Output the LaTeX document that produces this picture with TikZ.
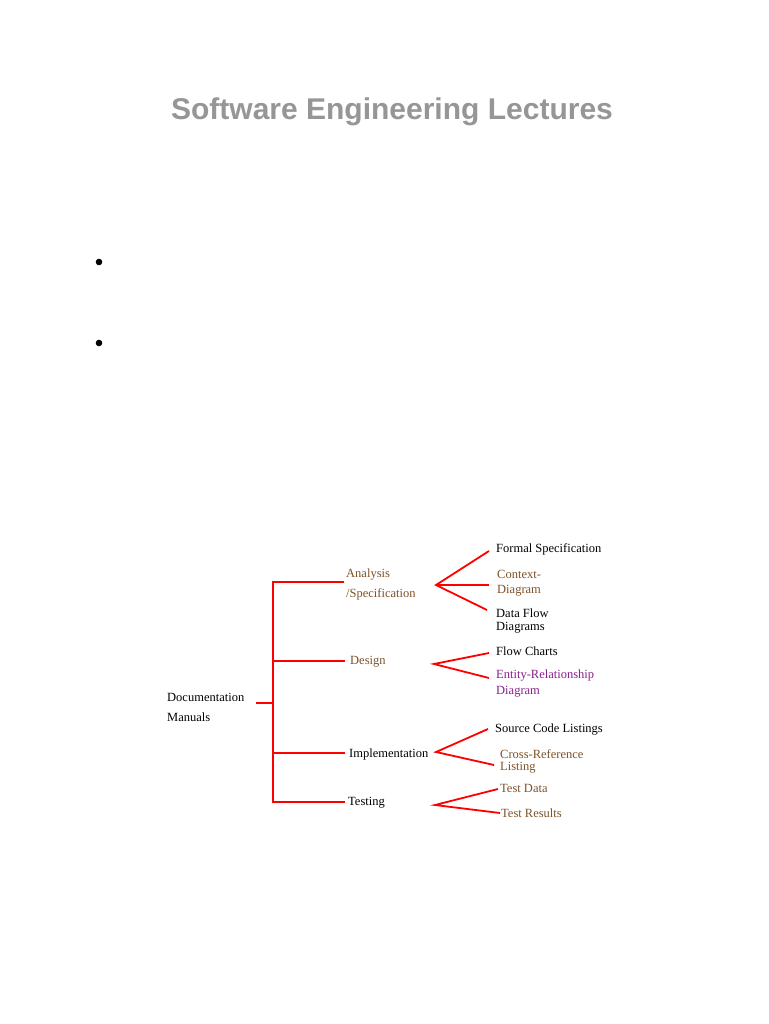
\documentclass[tikz,border=0pt]{standalone}
\usepackage{fontspec}
\setmainfont{Liberation Serif}
\newfontfamily\titlefont{Liberation Sans}
\definecolor{titlegray}{RGB}{150,150,150}
\definecolor{brownish}{RGB}{125,82,40}
\definecolor{purplish}{RGB}{140,30,140}
\begin{document}
\begin{tikzpicture}[x=1pt,y=-1pt,
  lbl/.style={anchor=west,inner sep=0pt,align=left,font=\fontsize{12.5}{15}\selectfont},
  br/.style={lbl,text=brownish},
  pu/.style={lbl,text=purplish},
  edge/.style={draw=red,line width=1.8pt}]
\useasboundingbox[fill=white] (0,0) rectangle (768,1024);
\node[font=\titlefont\bfseries\fontsize{30}{34}\selectfont,text=titlegray] (title) at (392,112) {Software Engineering Lectures};
\fill (99,262) circle (3.3);
\fill (99,343) circle (3.3);
% root and level 1
\node[lbl,font=\fontsize{12.5}{20}\selectfont] (doc) at (167,707) {Documentation\\Manuals};
\node[br,font=\fontsize{12.5}{20}\selectfont] (ana) at (346,584) {Analysis\\/Specification};
\node[br] (des) at (350,662) {Design};
\node[lbl] (imp) at (349,754) {Implementation};
\node[lbl] (tst) at (348,803) {Testing};
% level 2
\node[lbl] (fs) at (496,549) {Formal Specification};
\node[br] (cd) at (497,583.5) {Context-\\Diagram};
\node[lbl,font=\fontsize{12.5}{13}\selectfont] (dfd) at (496,621.5) {Data Flow\\Diagrams};
\node[lbl] (fc) at (496,651) {Flow Charts};
\node[pu,font=\fontsize{12.5}{16}\selectfont] (er) at (496,684) {Entity-Relationship\\Diagram};
\node[lbl] (scl) at (495,730) {Source Code Listings};
\node[br,font=\fontsize{12.5}{12}\selectfont] (crl) at (500,761) {Cross-Reference\\Listing};
\node[br] (td) at (500,788) {Test Data};
\node[br] (tr) at (501,813) {Test Results};
% tree coordinates
\coordinate (rootend) at (256,703);
\coordinate (j0) at (273,703);
\coordinate (j1) at (273,582);
\coordinate (j2) at (273,661);
\coordinate (j3) at (273,753);
\coordinate (j4) at (273,802);
\coordinate (e1) at (344,582);
\coordinate (e2) at (345,661);
\coordinate (e3) at (345,753);
\coordinate (e4) at (345,802);
\draw[edge] (rootend) -- (j0);
\draw[edge] (e1) -- (j1) -- (j4) -- (e4);
\draw[edge] (j2) -- (e2);
\draw[edge] (j3) -- (e3);
% fans
\coordinate (a1) at (436,585);
\coordinate (f1) at (489,551);
\coordinate (f2) at (489,585);
\coordinate (f3) at (487,610);
\draw[edge] (f1) -- (a1) -- (f3);
\draw[edge] (a1) -- (f2);
\coordinate (a2) at (434,664);
\coordinate (g1) at (489,653);
\coordinate (g2) at (489,678);
\draw[edge] (g1) -- (a2) -- (g2);
\coordinate (a3) at (436,752);
\coordinate (h1) at (488,729);
\coordinate (h2) at (494,765);
\draw[edge] (h1) -- (a3) -- (h2);
\coordinate (a4) at (435,805);
\coordinate (k1) at (498,789);
\coordinate (k2) at (500,813);
\draw[edge] (k1) -- (a4) -- (k2);
\end{tikzpicture}
\end{document}
